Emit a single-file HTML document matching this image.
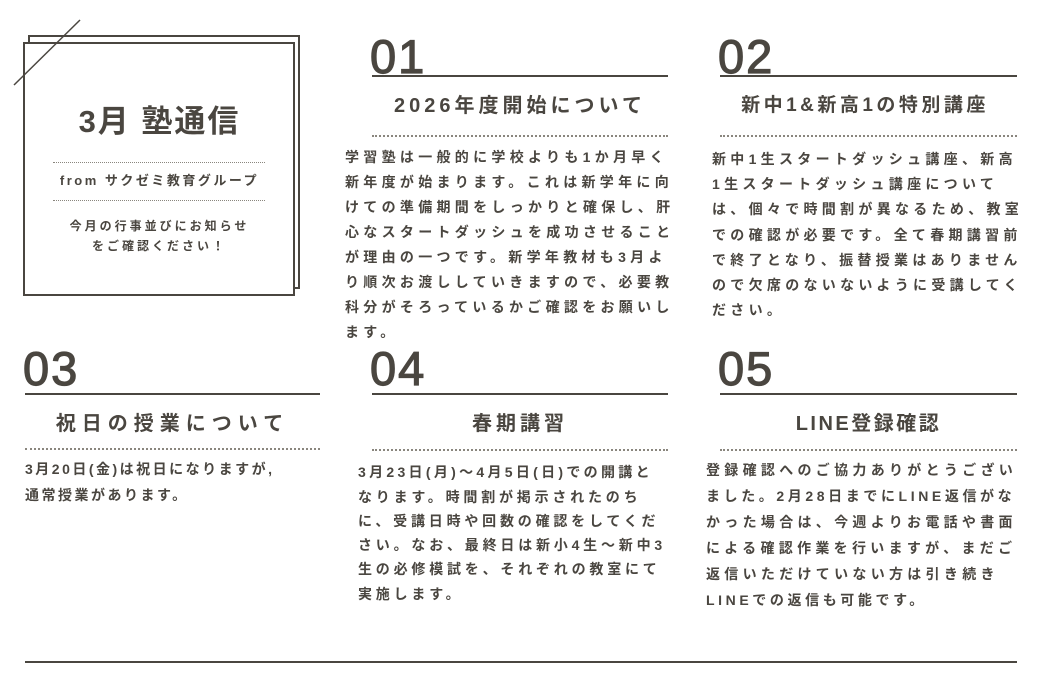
<!DOCTYPE html>
<html><head><meta charset="utf-8"><style>
html,body{margin:0;padding:0;background:#fff;}
body{width:1051px;height:676px;position:relative;overflow:hidden;color:#4a4640;font-family:"Liberation Sans","Noto Sans CJK JP",sans-serif;}
.a{position:absolute;white-space:nowrap;line-height:1;}
.num{font-size:47px;font-weight:normal;letter-spacing:2px;-webkit-text-stroke:1.2px #4a4640;}
.hl{position:absolute;height:2px;background:#4a4640;}
.dl{position:absolute;height:0;border-top:2px dotted #8a867e;}
.h{position:absolute;font-size:20px;font-weight:bold;letter-spacing:4px;text-align:center;line-height:1;white-space:nowrap;}
.b{font-size:14px;font-weight:bold;letter-spacing:4.3px;}
.box{position:absolute;border:2.5px solid #4a4640;background:#fff;}
</style></head><body>
<div class="box" style="left:28px;top:35px;width:268px;height:250px;"></div>
<div class="box" style="left:23px;top:42px;width:268px;height:250px;"></div>
<svg style="position:absolute;left:0;top:0" width="120" height="100"><line x1="80" y1="20" x2="14" y2="85" stroke="#4a4640" stroke-width="1.5"/></svg>
<div class="a" style="left:23px;width:273px;text-align:center;top:106px;font-size:31px;letter-spacing:2px;font-weight:bold;">3月 塾通信</div>
<div class="dl" style="left:53px;top:162px;width:212px;border-top-width:1.5px;"></div>
<div class="a" style="left:23px;width:273px;text-align:center;top:174px;font-size:13px;font-weight:bold;letter-spacing:2.5px;">from サクゼミ教育グループ</div>
<div class="dl" style="left:53px;top:200px;width:212px;border-top-width:1.5px;"></div>
<div class="a" style="left:23px;width:273px;text-align:center;top:220px;font-size:12px;font-weight:bold;letter-spacing:3px;">今月の行事並びにお知らせ</div>
<div class="a" style="left:23px;width:273px;text-align:center;top:240px;font-size:12px;font-weight:bold;letter-spacing:3px;">をご確認ください！</div>

<div class="a num" style="left:370px;top:33px;">01</div>
<div class="hl" style="left:372px;top:75px;width:296px;"></div>
<div class="h" style="left:372px;width:296px;top:96px;">2026年度開始について</div>
<div class="dl" style="left:372px;top:135px;width:296px;"></div>
<div class="a b" style="left:345px;top:150px;">学習塾は一般的に学校よりも1か月早く</div>
<div class="a b" style="left:345px;top:175px;">新年度が始まります。これは新学年に向</div>
<div class="a b" style="left:345px;top:200px;">けての準備期間をしっかりと確保し、肝</div>
<div class="a b" style="left:345px;top:225px;">心なスタートダッシュを成功させること</div>
<div class="a b" style="left:345px;top:250px;">が理由の一つです。新学年教材も3月よ</div>
<div class="a b" style="left:345px;top:275px;">り順次お渡ししていきますので、必要教</div>
<div class="a b" style="left:345px;top:300px;">科分がそろっているかご確認をお願いし</div>
<div class="a b" style="left:345px;top:325px;">ます。</div>

<div class="a num" style="left:718px;top:33px;">02</div>
<div class="hl" style="left:720px;top:75px;width:297px;"></div>
<div class="h" style="left:710px;width:310px;top:96px;font-size:19px;letter-spacing:3.5px;">新中1&amp;新高1の特別講座</div>
<div class="dl" style="left:720px;top:135px;width:297px;"></div>
<div class="a b" style="left:712px;top:152px;">新中1生スタートダッシュ講座、新高</div>
<div class="a b" style="left:712px;top:177px;">1生スタートダッシュ講座について</div>
<div class="a b" style="left:712px;top:202px;">は、個々で時間割が異なるため、教室</div>
<div class="a b" style="left:712px;top:228px;">での確認が必要です。全て春期講習前</div>
<div class="a b" style="left:712px;top:253px;">で終了となり、振替授業はありません</div>
<div class="a b" style="left:712px;top:278px;">ので欠席のないないように受講してく</div>
<div class="a b" style="left:712px;top:303px;">ださい。</div>

<div class="a num" style="left:23px;top:345px;">03</div>
<div class="hl" style="left:25px;top:393px;width:295px;"></div>
<div class="h" style="left:25px;width:295px;top:414px;letter-spacing:6px;">祝日の授業について</div>
<div class="dl" style="left:25px;top:448px;width:295px;"></div>
<div class="a b" style="left:25px;top:462px;letter-spacing:2.5px;">3月20日(金)は祝日になりますが,</div>
<div class="a b" style="left:25px;top:488px;letter-spacing:2.5px;">通常授業があります。</div>

<div class="a num" style="left:370px;top:345px;">04</div>
<div class="hl" style="left:372px;top:393px;width:296px;"></div>
<div class="h" style="left:372px;width:296px;top:414px;">春期講習</div>
<div class="dl" style="left:372px;top:449px;width:296px;"></div>
<div class="a b" style="left:358px;top:465px;letter-spacing:3.3px;">3月23日(月)～4月5日(日)での開講と</div>
<div class="a b" style="left:358px;top:490px;letter-spacing:3.8px;">なります。時間割が掲示されたのち</div>
<div class="a b" style="left:358px;top:514px;letter-spacing:3.8px;">に、受講日時や回数の確認をしてくだ</div>
<div class="a b" style="left:358px;top:538px;letter-spacing:3.8px;">さい。なお、最終日は新小4生～新中3</div>
<div class="a b" style="left:358px;top:562px;letter-spacing:3.8px;">生の必修模試を、それぞれの教室にて</div>
<div class="a b" style="left:358px;top:587px;letter-spacing:3.8px;">実施します。</div>

<div class="a num" style="left:718px;top:345px;">05</div>
<div class="hl" style="left:720px;top:393px;width:297px;"></div>
<div class="h" style="left:720px;width:297px;top:414px;letter-spacing:2.5px;">LINE登録確認</div>
<div class="dl" style="left:720px;top:449px;width:297px;"></div>
<div class="a b" style="left:706px;top:463px;">登録確認へのご協力ありがとうござい</div>
<div class="a b" style="left:706px;top:489px;letter-spacing:3.6px;">ました。2月28日までにLINE返信がな</div>
<div class="a b" style="left:706px;top:515px;">かった場合は、今週よりお電話や書面</div>
<div class="a b" style="left:706px;top:541px;">による確認作業を行いますが、まだご</div>
<div class="a b" style="left:706px;top:567px;">返信いただけていない方は引き続き</div>
<div class="a b" style="left:706px;top:593px;letter-spacing:3.6px;">LINEでの返信も可能です。</div>

<div class="hl" style="left:25px;top:661px;width:992px;"></div>
</body></html>
